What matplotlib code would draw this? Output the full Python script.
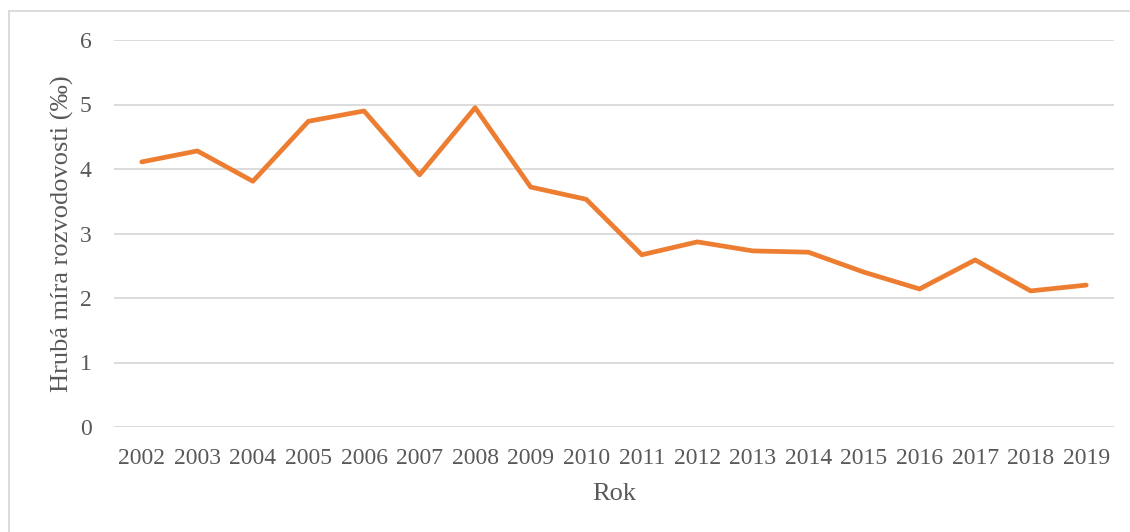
import matplotlib.pyplot as plt
from matplotlib.lines import Line2D

# data
roky = [str(r) for r in range(2002, 2020)]
mira = [4.11, 4.28, 3.81, 4.74, 4.90, 3.91, 4.95, 3.72, 3.53, 2.67,
        2.87, 2.73, 2.71, 2.40, 2.14, 2.59, 2.11, 2.20]
y_ticks = [0, 1, 2, 3, 4, 5, 6]

plt.rcParams['font.family'] = ['Liberation Serif', 'DejaVu Serif']

fig = plt.figure(figsize=(11.3, 5.32), dpi=100)
ax = fig.add_axes([114 / 1130, 1 - 427 / 532, 1000 / 1130, 387 / 532])

x = list(range(len(roky)))
ax.plot(x, mira, color='#ED7D31', linewidth=3.4, solid_capstyle='round', zorder=3)

ax.set_xlim(-0.5, len(roky) - 0.5)
ax.set_ylim(0, 6)
ax.set_xticks(x)
ax.set_xticklabels(roky)
ax.set_yticks(y_ticks)
ax.grid(axis='y', color='#d9d9d9', linewidth=1.3)
ax.set_axisbelow(True)
for s in ax.spines.values():
    s.set_visible(False)
ax.tick_params(length=0, labelsize=17, labelcolor='#595959')
ax.tick_params(axis='x', pad=15)
ax.tick_params(axis='y', pad=16)

ax.set_xlabel('Rok', fontsize=19, color='#595959', labelpad=10)
ax.set_ylabel('Hrubá míra rozvodovosti (‰)', fontsize=19, color='#595959', labelpad=4)

# light frame around the chart area
fig.add_artist(Line2D([9 / 1130, 1.0], [1 - 11 / 532, 1 - 11 / 532],
                      transform=fig.transFigure, color='#d9d9d9', linewidth=1.3))
fig.add_artist(Line2D([9 / 1130, 9 / 1130], [0, 1 - 11 / 532],
                      transform=fig.transFigure, color='#d9d9d9', linewidth=1.3))

fig.savefig('out.png', dpi=100)
